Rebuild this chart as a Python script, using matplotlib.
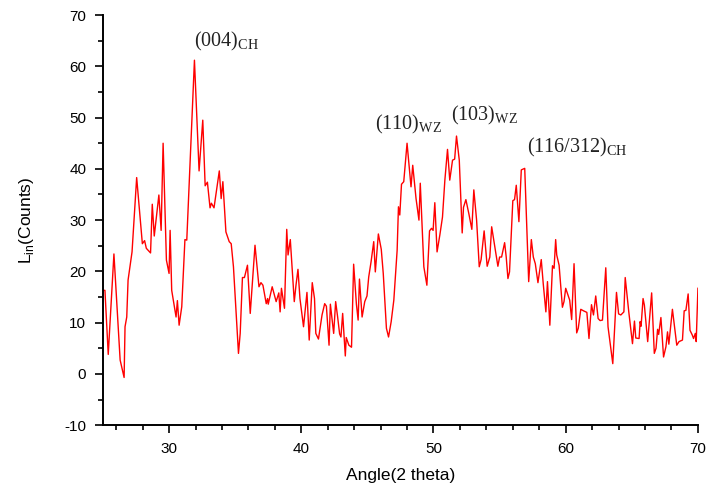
import matplotlib
matplotlib.use('Agg')
import matplotlib.pyplot as plt
from matplotlib.ticker import MultipleLocator

plt.rcParams['mathtext.fontset'] = 'custom'
plt.rcParams['mathtext.rm'] = 'Liberation Serif'
plt.rcParams['mathtext.sf'] = 'Liberation Sans'
plt.rcParams['axes.unicode_minus'] = False

# XRD pattern
two_theta = [25.0, 25.15, 25.4, 25.83, 26.3, 26.6, 26.67, 26.8, 26.9, 27.2, 27.55, 27.98, 28.15, 28.28, 28.6,
             28.73, 28.88, 29.23, 29.4, 29.55, 29.8, 30.0, 30.08, 30.2, 30.53, 30.63, 30.76, 30.96, 31.2, 31.34,
             31.92, 32.27, 32.55, 32.73, 32.9, 33.1, 33.2, 33.4, 33.8, 33.94, 34.07, 34.3, 34.55, 34.7, 34.87,
             35.25, 35.38, 35.55, 35.7, 35.93, 36.14, 36.5, 36.8, 36.95, 37.1, 37.35, 37.45, 37.5, 37.8, 38.1,
             38.3, 38.4, 38.5, 38.73, 38.9, 39.0, 39.17, 39.47, 39.6, 39.75, 39.9, 40.17, 40.43, 40.6, 40.83,
             41.0, 41.1, 41.3, 41.57, 41.77, 41.9, 42.1, 42.2, 42.45, 42.6, 42.75, 42.9, 43.0, 43.13, 43.33,
             43.4, 43.6, 43.8, 43.96, 44.17, 44.3, 44.4, 44.6, 44.8, 44.97, 45.1, 45.28, 45.48, 45.6, 45.83,
             46.05, 46.2, 46.44, 46.6, 46.8, 47.0, 47.25, 47.35, 47.45, 47.58, 47.75, 48.0, 48.3, 48.43, 48.68,
             48.9, 49.0, 49.27, 49.5, 49.7, 49.85, 49.97, 50.1, 50.27, 50.48, 50.68, 50.86, 51.06, 51.23, 51.44,
             51.6, 51.74, 51.95, 52.17, 52.27, 52.45, 52.67, 52.9, 53.05, 53.26, 53.46, 53.6, 53.83, 54.06, 54.26,
             54.4, 54.64, 54.87, 55.0, 55.15, 55.38, 55.5, 55.63, 55.75, 56.0, 56.13, 56.26, 56.46, 56.64, 56.9,
             57.2, 57.4, 57.55, 57.7, 57.9, 58.15, 58.3, 58.5, 58.62, 58.8, 59.0, 59.12, 59.24, 59.32, 59.5,
             59.75, 59.87, 60.0, 60.17, 60.3, 60.45, 60.63, 60.83, 60.95, 61.14, 61.35, 61.6, 61.76, 61.95, 62.1,
             62.27, 62.45, 62.6, 62.78, 63.03, 63.2, 63.56, 63.84, 64.0, 64.17, 64.4, 64.5, 64.77, 65.05, 65.2,
             65.3, 65.55, 65.63, 65.7, 65.85, 65.95, 66.2, 66.5, 66.7, 66.83, 66.95, 67.03, 67.2, 67.4, 67.58,
             67.7, 67.8, 68.07, 68.4, 68.57, 68.83, 68.96, 69.09, 69.26, 69.4, 69.57, 69.67, 69.8, 69.87, 70.0]
counts = [16.3, 16.3, 3.8, 23.4, 2.7, -0.7, 9.2, 11.1, 18.3, 23.8, 38.3, 25.4, 26.0, 24.5, 23.6,
          33.1, 26.9, 34.9, 28.0, 45.0, 22.2, 19.6, 28.0, 16.3, 11.1, 14.3, 9.5, 13.1, 26.2, 26.1,
          61.2, 39.6, 49.5, 36.7, 37.4, 32.4, 33.3, 32.4, 39.6, 34.2, 37.5, 27.7, 25.8, 25.4, 20.9,
          4.0, 7.9, 18.8, 18.8, 21.2, 11.8, 25.1, 17.0, 17.8, 17.3, 13.7, 14.7, 13.6, 17.0, 14.1,
          15.8, 12.1, 16.7, 12.8, 28.2, 23.2, 26.2, 14.1, 17.3, 20.4, 14.7, 9.2, 15.9, 6.6, 17.8,
          14.7, 7.9, 6.8, 11.5, 13.7, 13.2, 5.6, 13.6, 7.9, 14.1, 11.1, 7.8, 7.2, 11.8, 3.5,
          7.1, 5.6, 5.2, 21.4, 13.6, 10.5, 18.5, 11.1, 14.1, 15.2, 18.9, 21.9, 25.8, 19.9, 27.3,
          24.3, 19.6, 8.9, 7.2, 10.2, 14.4, 24.1, 32.6, 31.0, 37.0, 37.5, 45.0, 36.5, 40.7, 34.2,
          30.0, 37.2, 20.9, 17.3, 27.9, 28.4, 28.0, 33.4, 23.8, 27.1, 30.6, 37.8, 43.8, 37.8, 41.7,
          41.9, 46.4, 41.7, 27.5, 32.5, 34.0, 31.3, 28.2, 35.9, 30.0, 20.9, 22.3, 27.9, 21.0, 22.8,
          28.7, 24.8, 21.0, 22.8, 22.8, 25.6, 22.8, 18.6, 19.9, 33.8, 34.0, 36.8, 29.7, 39.8, 40.1,
          18.0, 26.2, 22.8, 21.5, 17.8, 22.3, 17.6, 12.1, 18.0, 9.5, 21.1, 20.6, 26.2, 23.2, 21.2,
          13.0, 14.1, 16.7, 15.4, 14.4, 10.6, 21.5, 8.0, 8.9, 12.6, 12.3, 12.0, 6.9, 13.5, 11.5,
          15.2, 10.8, 10.4, 10.5, 20.7, 9.2, 2.0, 15.9, 11.7, 11.5, 12.1, 18.8, 12.1, 5.9, 10.3,
          7.0, 6.9, 10.2, 9.3, 14.7, 13.4, 6.3, 15.8, 4.0, 5.0, 8.7, 7.7, 11.0, 3.3, 5.3,
          8.2, 5.8, 12.6, 5.6, 6.3, 6.6, 12.3, 12.4, 15.6, 8.5, 7.6, 6.9, 7.9, 6.3, 16.7]

peak_labels = [r'(004)$_{\mathrm{CH}}$', r'(110)$_{\mathrm{WZ}}$', r'(103)$_{\mathrm{WZ}}$',
               r'(116/312)$_{\mathrm{CH}}$']
peak_x = [31.9, 45.6, 51.35, 57.1]
peak_y = [63.8, 47.6, 49.5, 43.1]

fig = plt.figure(figsize=(7.1, 4.87), dpi=100)
ax = fig.add_axes([0.145, 0.127, 0.838, 0.842])

ax.plot(two_theta, counts, color='#ff0000', lw=1.0)

for lab, x, y in zip(peak_labels, peak_x, peak_y):
    ax.text(x, y, lab, fontsize=14.5, family='Liberation Serif', color='#222222',
            ha='left', va='baseline')

ax.set_xlim(25, 70)
ax.set_ylim(-10, 70)
ax.xaxis.set_major_locator(MultipleLocator(10))
ax.xaxis.set_minor_locator(MultipleLocator(2))
ax.yaxis.set_major_locator(MultipleLocator(10))
ax.yaxis.set_minor_locator(MultipleLocator(5))

ax.spines['top'].set_visible(False)
ax.spines['right'].set_visible(False)
for s in ['left', 'bottom']:
    ax.spines[s].set_linewidth(1.4)
ax.tick_params(which='major', direction='out', length=6, width=1.2, pad=6, labelsize=11)
ax.tick_params(which='minor', direction='out', length=3.5, width=1.2)
for t in ax.get_xticklabels() + ax.get_yticklabels():
    t.set_family('Liberation Sans')

ax.set_xlabel('Angle(2 theta)', family='Liberation Sans', fontsize=12.5)
ax.set_ylabel(r'L$_{\mathsf{in}}$(Counts)', family='Liberation Sans', fontsize=12.5)
ax.xaxis.set_label_coords(0.5, -0.105)
ax.yaxis.set_label_coords(-0.112, 0.5)

fig.savefig('out.png', dpi=100)
